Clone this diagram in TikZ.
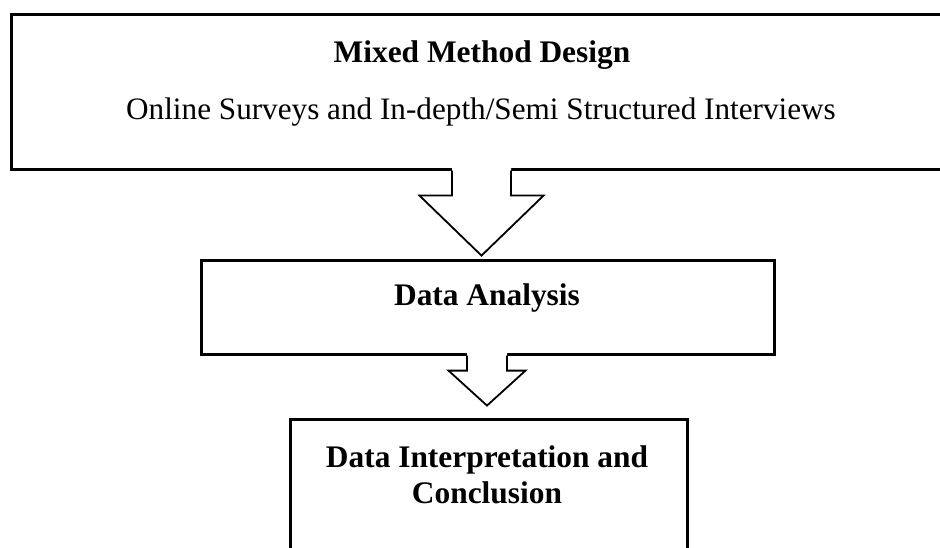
\documentclass[tikz,border=0pt]{standalone}
\usepackage{fontspec}
\setmainfont{Liberation Serif}
\usetikzlibrary{calc}
\begin{document}
\begin{tikzpicture}[x=1pt,y=-1pt,
  stage/.style={draw=black, line width=2.6pt, fill=white, anchor=north west, inner sep=0pt},
  arrowfill/.style={fill=white, draw=none},
  arrowline/.style={draw=black, line width=1.8pt, line join=miter},
  title/.style={font=\bfseries\fontsize{31.4}{36}\selectfont, inner sep=0pt, anchor=center},
  body/.style={font=\fontsize{31.2}{36}\selectfont, inner sep=0pt, anchor=center}]
\useasboundingbox (0,0) rectangle (940,548);
\clip (0,0) rectangle (940,548);

% stage boxes
\node[stage, minimum width=950pt, minimum height=155pt] (design) at (10,13) {};
\node[stage, minimum width=573pt, minimum height=94pt] (analysis) at (200,259) {};
\node[stage, minimum width=397pt, minimum height=200pt] (interp) at (289,418) {};

% texts
\node[title] (t1) at (482,55) {Mixed Method Design};
\node[body] (t2) at (481,112) {Online Surveys and In-depth/Semi Structured Interviews};
\node[title] (t3) at (487,298) {Data Analysis};
\node[title, align=center, font=\bfseries\fontsize{31.4}{36}\selectfont] (t4) at (487,475) {Data Interpretation and\\Conclusion};

% block arrow from design to analysis
\coordinate (a1) at ($(design.south west)+(471.5,0)$);
\fill[arrowfill] ($(a1)+(-29.5,-3)$) -- ($(a1)+(-29.5,25)$) -- ($(a1)+(-62,25)$)
  -- ($(a1)+(0,85)$) -- ($(a1)+(62,25)$) -- ($(a1)+(29.5,25)$) -- ($(a1)+(29.5,-3)$) -- cycle;
\draw[arrowline] ($(a1)+(-29.5,0)$) -- ($(a1)+(-29.5,25)$) -- ($(a1)+(-62,25)$)
  -- ($(a1)+(0,85)$) -- ($(a1)+(62,25)$) -- ($(a1)+(29.5,25)$) -- ($(a1)+(29.5,0)$);

% block arrow from analysis to interpretation
\coordinate (a2) at ($(analysis.south west)+(287,0)$);
\fill[arrowfill] ($(a2)+(-20,-3)$) -- ($(a2)+(-20,15)$) -- ($(a2)+(-38.5,15)$)
  -- ($(a2)+(0,50)$) -- ($(a2)+(38.5,15)$) -- ($(a2)+(20,15)$) -- ($(a2)+(20,-3)$) -- cycle;
\draw[arrowline] ($(a2)+(-20,0)$) -- ($(a2)+(-20,15)$) -- ($(a2)+(-38.5,15)$)
  -- ($(a2)+(0,50)$) -- ($(a2)+(38.5,15)$) -- ($(a2)+(20,15)$) -- ($(a2)+(20,0)$);
\end{tikzpicture}
\end{document}
